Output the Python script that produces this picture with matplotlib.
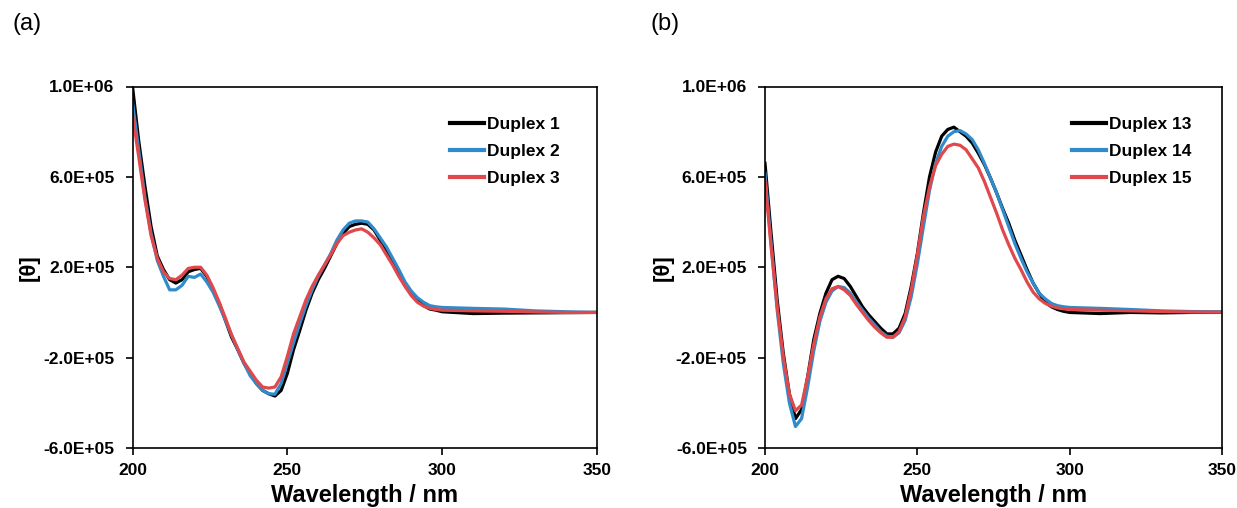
import matplotlib
matplotlib.use("Agg")
import matplotlib.pyplot as plt
from matplotlib.ticker import FuncFormatter
import numpy as np

plt.rcParams["font.family"] = ["Liberation Sans", "DejaVu Sans"]

# wavelength grid (nm)
wavelength = list(range(200, 301, 2)) + [310, 320, 330, 340, 350]

# molar ellipticity, in units of 1e5
duplex_1 = [10.0, 7.6, 5.6, 3.8, 2.5, 1.9, 1.45, 1.3, 1.45, 1.8, 1.9, 1.95, 1.6, 1.0, 0.4,
            -0.35, -1.1, -1.65, -2.25, -2.7, -3.15, -3.45, -3.6, -3.7, -3.45, -2.7, -1.65,
            -0.8, 0.1, 0.85, 1.45, 1.95, 2.5, 3.05, 3.5, 3.8, 3.9, 3.95, 3.9, 3.65, 3.2, 2.75,
            2.25, 1.75, 1.2, 0.85, 0.55, 0.3, 0.15, 0.1, 0.03,
            -0.05, -0.03, -0.02, -0.01, 0.0]
duplex_2 = [9.3, 7.2, 5.1, 3.5, 2.3, 1.6, 1.0, 1.0, 1.2, 1.6, 1.55, 1.7, 1.35, 0.9, 0.3,
            -0.35, -1.0, -1.65, -2.25, -2.8, -3.15, -3.45, -3.6, -3.62, -3.15, -2.25, -1.35,
            -0.5, 0.3, 1.0, 1.6, 2.1, 2.6, 3.2, 3.65, 3.95, 4.05, 4.05, 4.0, 3.7, 3.3, 2.9,
            2.4, 1.9, 1.35, 0.95, 0.65, 0.45, 0.3, 0.25, 0.22,
            0.18, 0.15, 0.07, 0.03, 0.0]
duplex_3 = [8.75, 6.9, 5.0, 3.4, 2.4, 1.8, 1.5, 1.45, 1.65, 1.95, 2.0, 2.0, 1.65, 1.1, 0.45,
            -0.25, -1.0, -1.6, -2.2, -2.6, -3.0, -3.3, -3.35, -3.3, -2.85, -1.95, -0.95,
            -0.2, 0.55, 1.15, 1.65, 2.1, 2.55, 3.05, 3.4, 3.55, 3.65, 3.7, 3.55, 3.3, 3.0, 2.55,
            2.1, 1.6, 1.15, 0.75, 0.45, 0.28, 0.18, 0.13, 0.1,
            0.07, 0.05, 0.02, 0.0, 0.0]

duplex_13 = [6.6, 3.5, 0.55, -1.8, -3.6, -4.7, -4.3, -2.85, -1.2, -0.05, 0.85, 1.45, 1.6, 1.5,
             1.15, 0.7, 0.25, -0.1, -0.4, -0.7, -0.95, -0.95, -0.7, -0.05, 1.15, 2.6, 4.4,
             6.0, 7.1, 7.8, 8.1, 8.2, 8.0, 7.8, 7.5, 7.05, 6.55, 5.95, 5.3, 4.6, 3.95, 3.2,
             2.55, 1.9, 1.3, 0.85, 0.45, 0.25, 0.13, 0.05, 0.0,
             -0.05, 0.0, -0.02, 0.0, 0.0]
duplex_14 = [6.15, 3.05, 0.1, -2.25, -4.0, -5.05, -4.7, -3.3, -1.7, -0.4, 0.45, 0.95, 1.15, 1.1,
             0.85, 0.45, 0.1, -0.25, -0.55, -0.85, -1.05, -1.1, -0.9, -0.35, 0.7, 2.15, 3.8,
             5.4, 6.6, 7.35, 7.8, 8.0, 8.05, 7.9, 7.65, 7.2, 6.6, 5.95, 5.3, 4.55, 3.8, 3.05,
             2.4, 1.8, 1.3, 0.85, 0.6, 0.4, 0.3, 0.25, 0.22,
             0.18, 0.13, 0.07, 0.04, 0.03]
duplex_15 = [5.85, 2.9, 0.25, -1.95, -3.6, -4.35, -4.1, -2.85, -1.4, -0.2, 0.6, 1.05, 1.15, 1.0,
             0.75, 0.35, 0.0, -0.35, -0.65, -0.9, -1.1, -1.1, -0.85, -0.2, 1.0, 2.55, 4.25,
             5.55, 6.5, 7.0, 7.35, 7.45, 7.4, 7.2, 6.8, 6.4, 5.8, 5.1, 4.4, 3.65, 3.0, 2.4,
             1.9, 1.35, 0.9, 0.6, 0.4, 0.28, 0.2, 0.16, 0.13,
             0.1, 0.07, 0.04, 0.02, 0.01]

colors = ["#000000", "#2f8bcb", "#e0484b"]
y_ticks = [-6e5, -2e5, 2e5, 6e5, 1e6]
x_ticks = [200, 250, 300, 350]


def sci_label(v, pos):
    return f"{v:.1E}"


def draw_panel(ax, series, labels, legend_x):
    x = np.array(wavelength)
    for values, label, color in zip(series, labels, colors):
        ax.plot(x, np.array(values) * 1e5, color=color, lw=2.3, label=label,
                solid_joinstyle="round")

    ax.set_xlim(200, 350)
    ax.set_ylim(-6e5, 1e6)
    ax.set_xticks(x_ticks)
    ax.set_yticks(y_ticks)
    ax.yaxis.set_major_formatter(FuncFormatter(sci_label))
    ax.tick_params(direction="out", length=5, width=1.2, labelsize=12.5)
    ax.tick_params(axis="y", pad=8)
    ax.tick_params(axis="x", pad=6)
    for lab in ax.get_xticklabels() + ax.get_yticklabels():
        lab.set_fontweight("bold")
    for spine in ax.spines.values():
        spine.set_linewidth(1.2)

    ax.set_xlabel("Wavelength / nm", fontsize=17, fontweight="bold", va="top")
    ax.xaxis.set_label_coords(0.5, -0.099)
    ax.set_ylabel("[θ]", fontsize=16, fontweight="bold", va="center")
    ax.yaxis.set_label_coords(-0.222, 0.5)

    leg = ax.legend(loc="upper left", bbox_to_anchor=(legend_x, 0.917), frameon=False,
                    fontsize=12.5, handlelength=1.95, handletextpad=0.2, labelspacing=0.7,
                    borderpad=0, borderaxespad=0)
    for t in leg.get_texts():
        t.set_fontweight("bold")
    for h in leg.get_lines():
        h.set_linewidth(3)


fig = plt.figure(figsize=(12.37, 5.08), dpi=100)
ax_a = fig.add_axes([132.5 / 1237, 1 - 448 / 508, 464.5 / 1237, 361.5 / 508])
ax_b = fig.add_axes([765 / 1237, 1 - 448 / 508, 457 / 1237, 361.5 / 508])

draw_panel(ax_a, [duplex_1, duplex_2, duplex_3], ["Duplex 1", "Duplex 2", "Duplex 3"], 0.683)
draw_panel(ax_b, [duplex_13, duplex_14, duplex_15], ["Duplex 13", "Duplex 14", "Duplex 15"], 0.672)

fig.text(12 / 1237, 1 - 24 / 508, "(a)", fontsize=17, va="center", ha="left")
fig.text(650 / 1237, 1 - 24 / 508, "(b)", fontsize=17, va="center", ha="left")

plt.savefig("out.png", dpi=100)
